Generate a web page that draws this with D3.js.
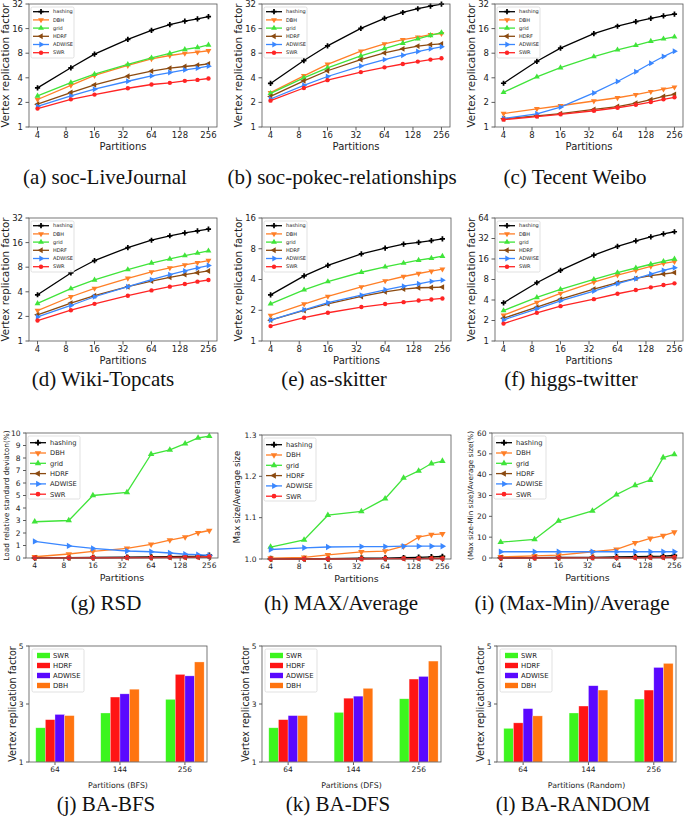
<!DOCTYPE html>
<html><head><meta charset="utf-8">
<script src="https://cdn.jsdelivr.net/npm/d3@7"></script>
<style>body{margin:0;background:#fff}svg{display:block}</style>
</head><body>
<svg id="c" width="685" height="818"></svg>
<script>
// ---------------- DATA ----------------
const partitions = [4, 9, 16, 36, 64, 100, 144, 196, 256];
const xTickValues = [4, 8, 16, 32, 64, 128, 256];
const methods = ["hashing", "DBH", "grid", "HDRF", "ADWISE", "SWR"];

const socLiveJournal = {
  hashing: [3.01, 5.3, 7.8, 11.8, 15.2, 17.9, 19.8, 21.1, 22.4],
  DBH:     [2.17, 3.24, 4.27, 5.66, 6.83, 7.5, 7.94, 8.24, 8.57],
  grid:    [2.40, 3.50, 4.43, 5.82, 7.02, 7.94, 8.89, 9.39, 10.1],
  HDRF:    [1.90, 2.64, 3.28, 4.18, 4.82, 5.25, 5.5, 5.7, 5.93],
  ADWISE:  [1.79, 2.40, 2.90, 3.63, 4.22, 4.64, 5.0, 5.25, 5.55],
  SWR:     [1.68, 2.18, 2.49, 2.98, 3.31, 3.47, 3.67, 3.77, 3.92]
};
const socPokec = {
  hashing: [3.41, 6.5, 9.85, 16.1, 21.4, 25.2, 28.0, 30.2, 31.8],
  DBH:     [2.63, 4.23, 5.85, 8.47, 10.4, 11.7, 12.6, 13.5, 13.9],
  grid:    [2.58, 4.0, 5.3, 7.4, 9.1, 10.6, 12.0, 13.2, 14.3],
  HDRF:    [2.37, 3.67, 4.88, 6.68, 8.07, 9.05, 9.78, 10.2, 10.4],
  ADWISE:  [2.2, 3.24, 4.15, 5.57, 6.68, 7.56, 8.39, 9.05, 9.58],
  SWR:     [2.1, 3.0, 3.74, 4.7, 5.37, 5.9, 6.31, 6.68, 6.93]
};
const tecentWeibo = {
  hashing: [3.43, 6.37, 9.23, 13.9, 17.1, 19.5, 21.3, 22.9, 24.1],
  DBH:     [1.46, 1.67, 1.82, 2.08, 2.28, 2.49, 2.71, 2.9, 3.07],
  grid:    [2.66, 4.11, 5.32, 7.28, 8.8, 10.0, 11.2, 12.0, 12.7],
  HDRF:    [1.26, 1.37, 1.46, 1.64, 1.78, 1.96, 2.16, 2.37, 2.51],
  ADWISE:  [1.27, 1.45, 1.75, 2.61, 3.6, 4.74, 6.02, 7.28, 8.46],
  SWR:     [1.23, 1.34, 1.43, 1.58, 1.72, 1.87, 2.02, 2.18, 2.31]
};
const wikiTopcats = {
  hashing: [3.68, 6.80, 9.65, 13.9, 17.1, 19.4, 21.1, 22.3, 23.4],
  DBH:     [2.36, 3.48, 4.4, 5.85, 7.0, 7.83, 8.53, 9.1, 9.65],
  grid:    [2.88, 4.37, 5.58, 7.47, 9.0, 10.1, 11.1, 11.9, 12.7],
  HDRF:    [2.09, 2.91, 3.58, 4.62, 5.42, 6.01, 6.49, 6.86, 7.2],
  ADWISE:  [1.97, 2.72, 3.48, 4.62, 5.63, 6.49, 7.2, 7.83, 8.38],
  SWR:     [1.78, 2.38, 2.85, 3.58, 4.16, 4.62, 4.98, 5.32, 5.58]
};
const asSkitter = {
  hashing: [2.83, 4.34, 5.5, 7.12, 8.1, 8.86, 9.25, 9.6, 10.0],
  DBH:     [1.78, 2.30, 2.73, 3.39, 3.88, 4.28, 4.58, 4.82, 5.05],
  grid:    [2.31, 3.17, 3.82, 4.71, 5.32, 5.78, 6.18, 6.46, 6.76],
  HDRF:    [1.6, 1.99, 2.31, 2.73, 3.03, 3.22, 3.32, 3.34, 3.37],
  ADWISE:  [1.6, 2.02, 2.37, 2.81, 3.17, 3.44, 3.63, 3.83, 3.94],
  SWR:     [1.40, 1.69, 1.89, 2.15, 2.30, 2.40, 2.49, 2.55, 2.61]
};
const higgsTwitter = {
  hashing: [3.64, 7.17, 10.9, 18.2, 24.6, 29.6, 33.9, 37.5, 40.2],
  DBH:     [2.39, 3.68, 5.0, 7.34, 9.3, 10.9, 12.5, 13.8, 14.6],
  grid:    [2.80, 4.36, 5.72, 8.04, 10.1, 11.8, 13.4, 14.8, 16.0],
  HDRF:    [2.16, 3.14, 4.12, 5.78, 7.17, 8.31, 9.11, 9.63, 10.1],
  ADWISE:  [2.04, 2.97, 3.89, 5.4, 6.94, 8.21, 9.63, 10.9, 11.9],
  SWR:     [1.80, 2.59, 3.25, 4.12, 4.94, 5.6, 6.13, 6.63, 7.02]
};
const rsd = {
  hashing: [0.02, 0.03, 0.04, 0.06, 0.08, 0.1, 0.13, 0.15, 0.22],
  DBH:     [0.1, 0.32, 0.53, 0.77, 1.09, 1.43, 1.67, 2.02, 2.2],
  grid:    [2.9, 3.0, 5.0, 5.25, 8.3, 8.65, 9.15, 9.6, 9.75],
  HDRF:    [0.01, 0.02, 0.02, 0.03, 0.04, 0.05, 0.06, 0.07, 0.08],
  ADWISE:  [1.33, 0.97, 0.77, 0.56, 0.5, 0.4, 0.3, 0.27, 0.2],
  SWR:     [0.01, 0.01, 0.02, 0.02, 0.03, 0.04, 0.05, 0.06, 0.1]
};
const maxAvg = {
  hashing: [1.001, 1.001, 1.001, 1.002, 1.002, 1.003, 1.004, 1.005, 1.006],
  DBH:     [1.002, 1.004, 1.010, 1.017, 1.019, 1.031, 1.053, 1.059, 1.061],
  grid:    [1.029, 1.046, 1.106, 1.115, 1.146, 1.196, 1.213, 1.231, 1.237],
  HDRF:    [1.0, 1.0, 1.0, 1.001, 1.001, 1.001, 1.001, 1.002, 1.002],
  ADWISE:  [1.023, 1.027, 1.029, 1.030, 1.030, 1.031, 1.031, 1.031, 1.031],
  SWR:     [1.0, 1.0, 1.0, 1.0, 1.001, 1.001, 1.001, 1.001, 1.001]
};
const maxMinAvg = {
  hashing: [0.1, 0.2, 0.3, 0.3, 0.5, 0.6, 0.8, 0.9, 1.2],
  DBH:     [0.5, 1.0, 1.4, 3.0, 4.1, 7.3, 9.4, 10.7, 12.4],
  grid:    [7.6, 8.9, 17.8, 22.6, 30.4, 34.9, 37.4, 48.2, 49.7],
  HDRF:    [0.1, 0.1, 0.1, 0.2, 0.2, 0.2, 0.3, 0.3, 0.4],
  ADWISE:  [3.0, 3.0, 3.0, 3.0, 3.0, 3.0, 3.0, 3.0, 3.0],
  SWR:     [0.0, 0.0, 0.1, 0.1, 0.1, 0.1, 0.2, 0.2, 0.3]
};

const barGroups = ["64", "144", "256"];
const barMethods = ["SWR", "HDRF", "ADWISE", "DBH"];
const baBFS = {
  SWR: [2.18, 2.69, 3.16], HDRF: [2.46, 3.24, 4.02], ADWISE: [2.64, 3.35, 3.97], DBH: [2.60, 3.51, 4.45]
};
const baDFS = {
  SWR: [2.18, 2.71, 3.18], HDRF: [2.46, 3.20, 3.86], ADWISE: [2.60, 3.27, 3.95], DBH: [2.60, 3.54, 4.48]
};
const baRandom = {
  SWR: [2.16, 2.69, 3.17], HDRF: [2.35, 2.93, 3.48], ADWISE: [2.84, 3.63, 4.26], DBH: [2.59, 3.48, 4.40]
};

// ---------------- STYLE ----------------
const lineColors = {hashing:"#000000", DBH:"#ff7f27", grid:"#40e43a", HDRF:"#8b4a10", ADWISE:"#3a87ff", SWR:"#ff2424"};
const barColors = {SWR:"#3cf51e", HDRF:"#ff1414", ADWISE:"#5a08ff", DBH:"#ff7410"};
const markerDefs = {
  hashing:[d3.symbolCross,0], DBH:[d3.symbolTriangle,180], grid:[d3.symbolTriangle,0],
  HDRF:[d3.symbolTriangle,-90], ADWISE:[d3.symbolTriangle,90], SWR:[d3.symbolCircle,0]
};
const SANS = "DejaVu Sans, sans-serif";
const SERIF = "Liberation Serif, Times New Roman, serif";
const svg = d3.select("#c");

const rowStyleTop = {tick:8.5, label:10, ylab:10.3, ylabDx:-20, xlabDy:23, tickLen:3.5, tickPad:1, leg:5, legW:43, legH:51, legFirst:4.7, legRow:8.2, legLine:16, legText:22, msize:15, lw:1.3};
const rowStyleMid = {tick:7.5, label:9.5, ylab:7.4, ylabDx:-17, xlabDy:22.5, tickLen:3, tickPad:1.5, leg:6.7, legW:52, legH:63, legFirst:6.7, legRow:10.3, legLine:16, legText:22, msize:18, lw:1.3};

function frameAndAxes(g, f, x, y, xticks, xfmt, yticks, yfmt, st) {
  yticks.forEach(v => {
    const yy = y(v);
    g.append("line").attr("x1", f.l - st.tickLen).attr("x2", f.l).attr("y1", yy).attr("y2", yy)
      .attr("stroke", "#333").attr("stroke-width", 0.8);
    g.append("text").attr("x", f.l - st.tickLen - 2.5).attr("y", yy).attr("dy", "0.35em")
      .attr("text-anchor", "end").attr("font-family", SANS).attr("font-size", st.tick).attr("fill", "#222")
      .text(yfmt(v));
  });
  xticks.forEach(v => {
    const xx = x(v);
    g.append("line").attr("x1", xx).attr("x2", xx).attr("y1", f.b).attr("y2", f.b + st.tickLen)
      .attr("stroke", "#333").attr("stroke-width", 0.8);
    g.append("text").attr("x", xx).attr("y", f.b + st.tickLen + st.tickPad).attr("dy", "0.76em")
      .attr("text-anchor", "middle").attr("font-family", SANS).attr("font-size", st.tick).attr("fill", "#222")
      .text(xfmt(v));
  });
}

function drawFrame(g, f) {
  g.append("rect").attr("x", f.l).attr("y", f.t).attr("width", f.r - f.l).attr("height", f.b - f.t)
    .attr("fill", "none").attr("stroke", "#555").attr("stroke-width", 0.8);
}

function linePanel(p) {
  const st = p.style, f = p.frame;
  const g = svg.append("g");
  const x = d3.scaleLog().base(2).domain([Math.pow(2, 1.7), Math.pow(2, 8.3)]).range([f.l, f.r]);
  const y = (p.log ? d3.scaleLog().base(2) : d3.scaleLinear()).domain(p.yDomain).range([f.b, f.t]);
  frameAndAxes(g, f, x, y, xTickValues, d3.format("d"), p.yTicks, p.yFmt, st);
  const line = d3.line().x((d, i) => x(partitions[i])).y(d => y(d));
  methods.forEach(m => {
    const vals = p.data[m];
    g.append("path").datum(vals).attr("d", line).attr("fill", "none")
      .attr("stroke", lineColors[m]).attr("stroke-width", st.lw);
    const [sym, rot] = markerDefs[m];
    const path = d3.symbol().type(sym).size(st.msize)();
    g.selectAll(null).data(vals).enter().append("path").attr("d", path)
      .attr("transform", (d, i) => `translate(${x(partitions[i])},${y(d)}) rotate(${rot})`)
      .attr("fill", lineColors[m]);
  });
  drawFrame(g, f);
  const lx = f.l + 2, ly = f.t + 3;
  g.append("rect").attr("x", lx).attr("y", ly).attr("width", st.legW).attr("height", st.legH)
    .attr("rx", 1.5).attr("fill", "#fff").attr("fill-opacity", 0.85).attr("stroke", "#d4d4d4").attr("stroke-width", 0.7);
  methods.forEach((m, i) => {
    const yy = ly + st.legFirst + i * st.legRow;
    g.append("line").attr("x1", lx + 2).attr("x2", lx + 2 + st.legLine).attr("y1", yy).attr("y2", yy)
      .attr("stroke", lineColors[m]).attr("stroke-width", st.lw);
    const [sym, rot] = markerDefs[m];
    g.append("path").attr("d", d3.symbol().type(sym).size(st.msize)())
      .attr("transform", `translate(${lx + 2 + st.legLine / 2},${yy}) rotate(${rot})`).attr("fill", lineColors[m]);
    g.append("text").attr("x", lx + st.legText).attr("y", yy).attr("dy", "0.35em")
      .attr("font-family", SANS).attr("font-size", st.leg).attr("fill", "#222").text(m);
  });
  g.append("text").attr("x", (f.l + f.r) / 2).attr("y", f.b + st.xlabDy).attr("text-anchor", "middle")
    .attr("font-family", SANS).attr("font-size", st.label).attr("fill", "#222").text("Partitions");
  g.append("text").attr("transform", `translate(${f.l + st.ylabDx},${(f.t + f.b) / 2}) rotate(-90)`)
    .attr("text-anchor", "middle").attr("font-family", SANS).attr("font-size", st.ylab).attr("fill", "#222")
    .text(p.ylabel);
  svg.append("text").attr("x", p.cap[0]).attr("y", p.cap[1]).attr("text-anchor", "middle")
    .attr("font-family", SERIF).attr("font-size", 21).attr("fill", "#111").text(p.caption);
}

function barPanel(p) {
  const f = p.frame;
  const st = {tick:7.5, tickLen:3, tickPad:1.5};
  const g = svg.append("g");
  const x = d3.scaleLinear().domain([-0.4, 2.34]).range([f.l, f.r]);
  const y = d3.scaleLinear().domain([1, 5]).range([f.b, f.t]);
  const bw = 0.148;
  frameAndAxes(g, f, x, y, [0, 1, 2], i => barGroups[i], [1, 3, 5], d3.format("d"), st);
  barMethods.forEach((m, k) => {
    g.selectAll(null).data(p.data[m]).enter().append("rect")
      .attr("x", (d, i) => x(i + (k - 2) * bw)).attr("width", x(bw) - x(0))
      .attr("y", d => y(d)).attr("height", d => y(1) - y(d))
      .attr("fill", barColors[m]).attr("stroke", "#fff").attr("stroke-opacity", 0.5).attr("stroke-width", 0.6);
  });
  drawFrame(g, f);
  const lx = f.l + 3, ly = f.t + 3;
  g.append("rect").attr("x", lx).attr("y", ly).attr("width", 52).attr("height", 43)
    .attr("rx", 1.5).attr("fill", "#fff").attr("fill-opacity", 0.85).attr("stroke", "#d4d4d4").attr("stroke-width", 0.7);
  barMethods.forEach((m, i) => {
    const yy = ly + 6.5 + i * 10;
    g.append("rect").attr("x", lx + 5).attr("y", yy - 2.7).attr("width", 13).attr("height", 5.4).attr("fill", barColors[m]);
    g.append("text").attr("x", lx + 21).attr("y", yy).attr("dy", "0.35em")
      .attr("font-family", SANS).attr("font-size", 6.9).attr("fill", "#222").text(m);
  });
  g.append("text").attr("x", (f.l + f.r) / 2).attr("y", f.b + 26).attr("text-anchor", "middle")
    .attr("font-family", SANS).attr("font-size", 7.8).attr("fill", "#222").text(p.xlabel);
  g.append("text").attr("transform", `translate(${f.l - 13},${(f.t + f.b) / 2}) rotate(-90)`)
    .attr("text-anchor", "middle").attr("font-family", SANS).attr("font-size", 9.6).attr("fill", "#222")
    .text("Vertex replication factor");
  svg.append("text").attr("x", p.cap[0]).attr("y", p.cap[1]).attr("text-anchor", "middle")
    .attr("font-family", SERIF).attr("font-size", 21).attr("fill", "#111").text(p.caption);
}

const logTicks32 = [1, 2, 4, 8, 16, 32];
const VRF = "Vertex replication factor";
const intFmt = d3.format("d");

linePanel({data: socLiveJournal, frame:{l:29, r:217, t:4, b:127}, log:true, yDomain:[1,32], yTicks:logTicks32, yFmt:intFmt, ylabel:VRF, style:rowStyleTop, caption:"(a) soc-LiveJournal", cap:[105,184]});
linePanel({data: socPokec, frame:{l:262, r:450, t:4, b:127}, log:true, yDomain:[1,32], yTicks:logTicks32, yFmt:intFmt, ylabel:VRF, style:rowStyleTop, caption:"(b) soc-pokec-relationships", cap:[342,184]});
linePanel({data: tecentWeibo, frame:{l:495, r:683, t:4, b:127}, log:true, yDomain:[1,32], yTicks:logTicks32, yFmt:intFmt, ylabel:VRF, style:rowStyleTop, caption:"(c) Tecent Weibo", cap:[575,184]});

linePanel({data: wikiTopcats, frame:{l:29, r:217, t:218, b:341}, log:true, yDomain:[1,32], yTicks:logTicks32, yFmt:intFmt, ylabel:VRF, style:rowStyleTop, caption:"(d) Wiki-Topcats", cap:[103,386]});
linePanel({data: asSkitter, frame:{l:262, r:451, t:218, b:341}, log:true, yDomain:[1,16], yTicks:[1,2,4,8,16], yFmt:intFmt, ylabel:VRF, style:rowStyleTop, caption:"(e) as-skitter", cap:[334,386]});
linePanel({data: higgsTwitter, frame:{l:495, r:683, t:218, b:341}, log:true, yDomain:[1,64], yTicks:[1,2,4,8,16,32,64], yFmt:intFmt, ylabel:VRF, style:rowStyleTop, caption:"(f) higgs-twitter", cap:[571,386]});

linePanel({data: rsd, frame:{l:26, r:218, t:433, b:558}, log:false, yDomain:[0,10], yTicks:d3.range(0,11), yFmt:intFmt, ylabel:"Load relative standard deviaton(%)", style:rowStyleMid, caption:"(g) RSD", cap:[106,610]});
linePanel({data: maxAvg, frame:{l:262, r:451, t:435, b:559}, log:false, yDomain:[1.0,1.3], yTicks:[1.0,1.1,1.2,1.3], yFmt:d3.format(".1f"), ylabel:"Max size/Average size", style:Object.assign({}, rowStyleMid, {ylab:8.4, ylabDx:-22}), caption:"(h) MAX/Average", cap:[341,610]});
linePanel({data: maxMinAvg, frame:{l:492, r:683, t:433, b:558}, log:false, yDomain:[0,60], yTicks:[0,10,20,30,40,50,60], yFmt:intFmt, ylabel:"(Max size-Min size)/Average size(%)", style:Object.assign({}, rowStyleMid, {ylab:7.2, ylabDx:-19}), caption:"(i) (Max-Min)/Average", cap:[572,610]});

barPanel({data: baBFS, frame:{l:29, r:207, t:646, b:762}, xlabel:"Partitions (BFS)", caption:"(j) BA-BFS", cap:[106,811]});
barPanel({data: baDFS, frame:{l:262, r:441, t:646, b:762}, xlabel:"Partitions (DFS)", caption:"(k) BA-DFS", cap:[338,811]});
barPanel({data: baRandom, frame:{l:497, r:676, t:646, b:762}, xlabel:"Partitions (Random)", caption:"(l) BA-RANDOM", cap:[573,811]});
</script>
</body></html>
